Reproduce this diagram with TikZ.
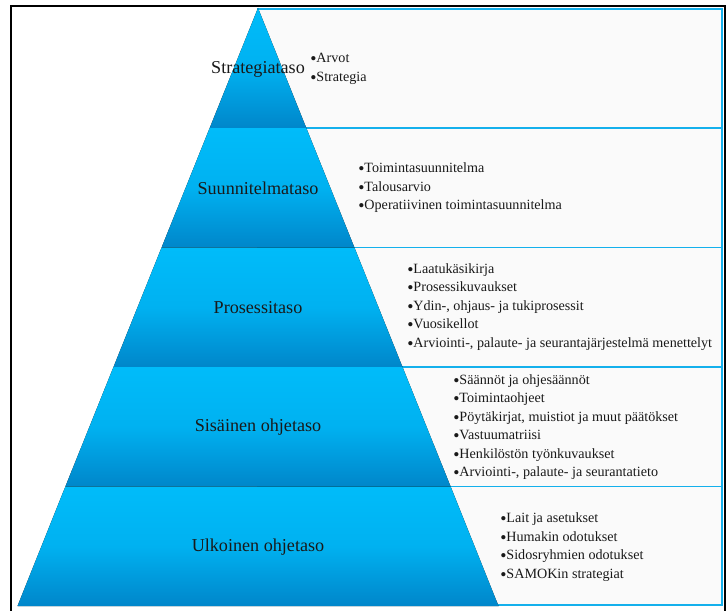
\documentclass[tikz,border=0pt]{standalone}
\usepackage{fontspec}
\setmainfont{Liberation Serif}
\usepackage{tikz}
\definecolor{pyrtop}{RGB}{0,188,250}
\definecolor{pyrbot}{RGB}{0,134,202}
\definecolor{boxline}{RGB}{20,176,236}
\definecolor{boxfill}{RGB}{250,250,250}
\newcommand{\itm}{\raisebox{-0.3ex}{\scalebox{1.25}{\textbullet}}}

\begin{document}
\begin{tikzpicture}[x=0.75pt, y=-0.75pt]
    \tikzstyle{band} = [top color=pyrtop, bottom color=pyrbot, middle color=pyrtop!80!pyrbot]
    \tikzstyle{listbox} = [draw=boxline, fill=boxfill, line width=1.4pt]
    \tikzstyle{level} = [font=\fontsize{13.6}{16}\selectfont, text=black!90]
    \tikzstyle{items} = [anchor=west, align=left, inner sep=0pt, font=\fontsize{10.6}{13.9}\selectfont, text=black!90]

    \useasboundingbox (0,0) rectangle (727,610);
    \draw [line width=1.5pt] (11,6) rectangle (725,620);

    % boxes behind the pyramid
    \draw [listbox] (258,9) rectangle (722,128);
    \draw [listbox] (258,128) rectangle (722,247.5);
    \draw [listbox] (258,247.5) rectangle (722,367);
    \draw [listbox] (258,367) rectangle (722,486.5);
    \draw [listbox] (258,486.5) rectangle (722,605);

    % pyramid
    \fill [band] (258,8) -- (306.3,128) -- (209.7,128) -- cycle;
    \fill [band] (209.7,128) -- (306.3,128) -- (354.4,247.5) -- (161.6,247.5) -- cycle;
    \fill [band] (161.6,247.5) -- (354.4,247.5) -- (402.5,367) -- (113.5,367) -- cycle;
    \fill [band] (113.5,367) -- (402.5,367) -- (450.6,486.5) -- (65.4,486.5) -- cycle;
    \fill [band] (65.4,486.5) -- (450.6,486.5) -- (498.5,606) -- (17.5,606) -- cycle;

    \node [level] (strat) at (258,69) {Strategiataso};
    \node [level] (suunn) at (258,188) {Suunnitelmataso};
    \node [level] (prosessi) at (258,308) {Prosessitaso};
    \node [level] (sisainen) at (258,427) {Sisäinen ohjetaso};
    \node [level] (ulkoinen) at (258,547) {Ulkoinen ohjetaso};

    \node [items] (stratlist) at (310,69) {\itm Arvot\\\itm Strategia};
    \node [items] (suunnlist) at (358,188) {\itm Toimintasuunnitelma\\\itm Talousarvio\\\itm Operatiivinen toimintasuunnitelma};
    \node [items] (prosessilist) at (407,307) {\itm Laatukäsikirja\\\itm Prosessikuvaukset\\\itm Ydin-, ohjaus- ja tukiprosessit\\\itm Vuosikellot\\\itm Arviointi-, palaute- ja seurantajärjestelmä menettelyt};
    \node [items] (sisainenlist) at (453,427) {\itm Säännöt ja ohjesäännöt\\\itm Toimintaohjeet\\\itm Pöytäkirjat, muistiot ja muut päätökset\\\itm Vastuumatriisi\\\itm Henkilöstön työnkuvaukset\\\itm Arviointi-, palaute- ja seurantatieto};
    \node [items] (ulkoinenlist) at (500,547) {\itm Lait ja asetukset\\\itm Humakin odotukset\\\itm Sidosryhmien odotukset\\\itm SAMOKin strategiat};
\end{tikzpicture}
\end{document}
